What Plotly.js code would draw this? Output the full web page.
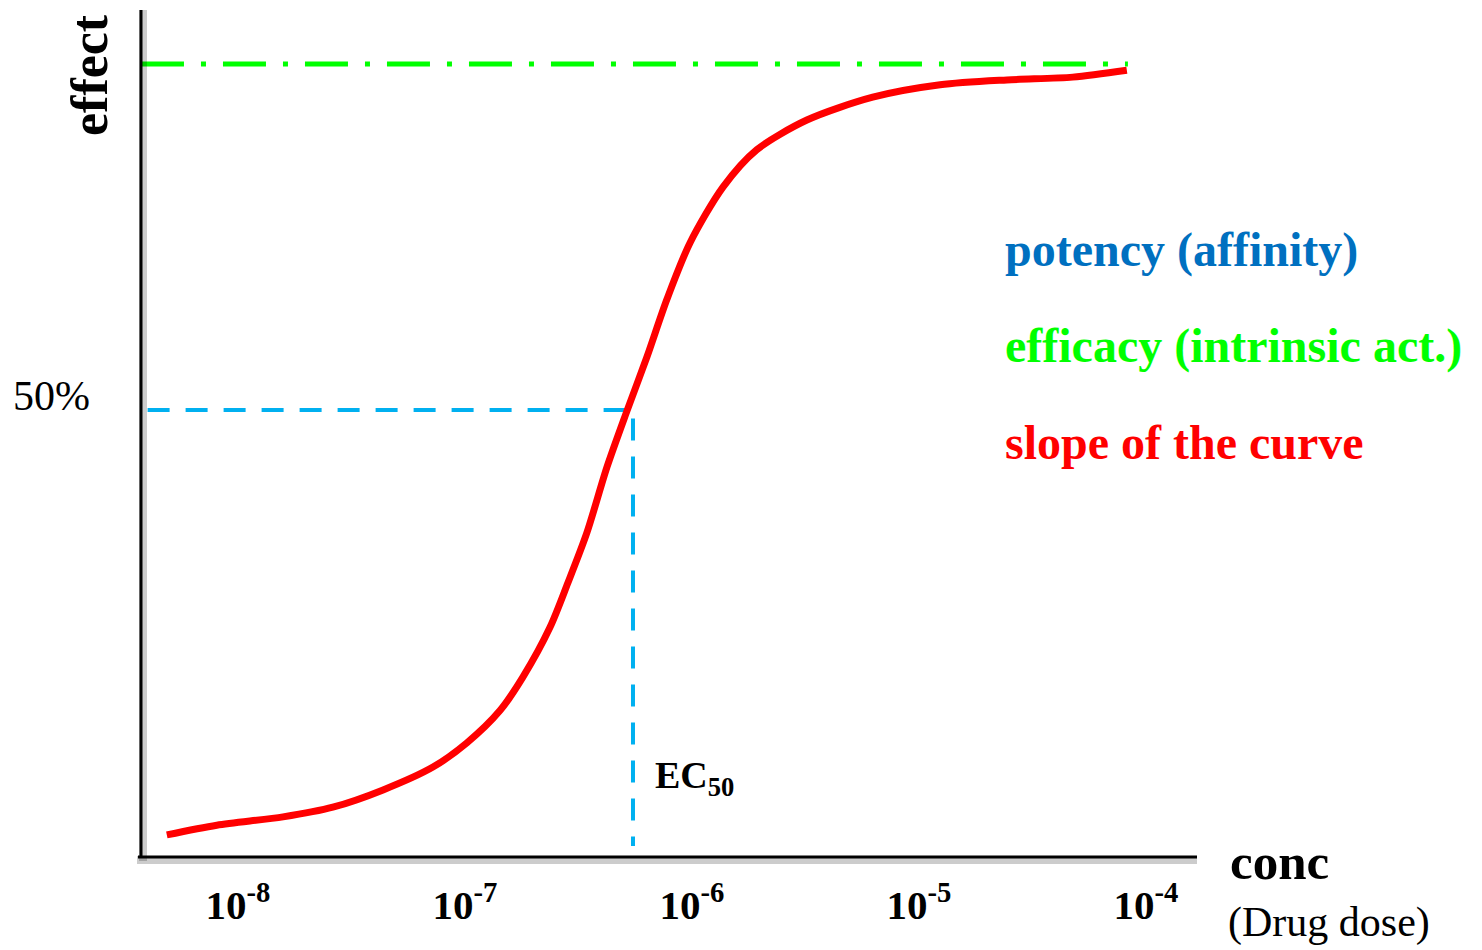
<!DOCTYPE html>
<html>
<head>
<meta charset="utf-8">
<script src="https://cdn.plot.ly/plotly-3.0.1.min.js"></script>
<style>
  html, body { margin: 0; padding: 0; background: #ffffff; }
  #chart { width: 1482px; height: 950px; }
</style>
</head>
<body>
<div id="chart"></div>
<script>
// Dose-response curve (concentration in M, effect in % of maximal effect)
const conc = [4.86e-9, 8.07e-9, 1.58e-8, 2.62e-8, 4.36e-8, 7.23e-8, 1.02e-7, 1.43e-7,
              1.80e-7, 2.37e-7, 2.84e-7, 3.44e-7, 4.23e-7, 5.18e-7, 6.34e-7, 7.76e-7, 9.79e-7,
              1.37e-6, 1.93e-6, 3.21e-6, 6.26e-6, 1.24e-5, 2.44e-5, 4.76e-5, 8.24e-5];
const effect = [-11.4, -10.0, -8.8, -7.4, -4.9, -1.6, 1.9, 6.6,
                11.4, 18.6, 25.0, 32.2, 41.8, 49.9, 57.7, 66.0, 74.1,
                82.2, 87.6, 91.9, 95.2, 97.0, 97.7, 98.1, 99.1];

// Efficacy (maximal effect) line
const efficacyX = [3.74e-9, 8.33e-5];
const efficacyY = [100, 100];

// EC50 guide lines
const ec50X = [4.0e-9, 5.5e-7, 5.5e-7];
const ec50Y = [50, 50, -13];

// Axis ticks
const xTickVals = [1e-8, 1e-7, 1e-6, 1e-5, 1e-4];
const xTickText = ['10<sup>-8</sup>', '10<sup>-7</sup>', '10<sup>-6</sup>', '10<sup>-5</sup>', '10<sup>-4</sup>'];
const yTickVals = [50];
const yTickText = ['50%'];

// Labels
const yTitle = 'effect';
const xTitle = 'conc';
const xSubtitle = '(Drug dose)';
const ec50Label = 'EC<sub>50</sub>';
const legendTexts = ['potency (affinity)', 'efficacy (intrinsic act.)', 'slope of the curve'];
const legendColors = ['#0070c0', '#00ff00', '#ff0000'];

const serif = 'Liberation Serif, Times New Roman, serif';

const traces = [
  {
    x: ec50X, y: ec50Y, type: 'scatter', mode: 'lines',
    line: {color: '#00b0f0', width: 4, dash: '22px,16px'},
    hoverinfo: 'skip'
  },
  {
    x: efficacyX, y: efficacyY, type: 'scatter', mode: 'lines',
    line: {color: '#00ff00', width: 5, dash: '43px,17px,5px,17px'},
    hoverinfo: 'skip'
  },
  {
    x: conc, y: effect, type: 'scatter', mode: 'lines',
    line: {color: '#ff0000', width: 7, shape: 'spline', smoothing: 0.8},
    hoverinfo: 'skip'
  }
];

const legendY = [250, 346, 442];
const annotations = [
  {text: '<b>' + yTitle + '</b>', xref: 'paper', yref: 'paper',
   x: -52 / 1056, y: (857 - 75) / 847, textangle: -90, showarrow: false,
   xanchor: 'center', yanchor: 'middle', font: {family: serif, size: 52, color: '#000'}},
  {text: '<b>' + xTitle + '</b>', xref: 'paper', yref: 'paper',
   x: (1228 - 141) / 1056, y: (857 - 862) / 847, showarrow: false,
   xanchor: 'left', yanchor: 'middle', font: {family: serif, size: 51, color: '#000'}},
  {text: xSubtitle, xref: 'paper', yref: 'paper',
   x: (1226 - 141) / 1056, y: (857 - 922) / 847, showarrow: false,
   xanchor: 'left', yanchor: 'middle', font: {family: serif, size: 42, color: '#000'}},
  {text: '<b>' + ec50Label + '</b>', xref: 'paper', yref: 'paper',
   x: (653 - 141) / 1056, y: (857 - 778) / 847, showarrow: false,
   xanchor: 'left', yanchor: 'middle', font: {family: serif, size: 38, color: '#000'}}
];
legendTexts.forEach((t, i) => {
  annotations.push({
    text: '<b>' + t + '</b>', xref: 'paper', yref: 'paper',
    x: (1003 - 141) / 1056, y: (857 - legendY[i]) / 847, showarrow: false,
    xanchor: 'left', yanchor: 'middle',
    font: {family: serif, size: 48, color: legendColors[i]}
  });
});

const shapes = [
  // shadows
  {type: 'line', xref: 'paper', yref: 'paper', x0: 2 / 1056, x1: 2 / 1056, y0: -4 / 847, y1: 1,
   line: {color: 'rgba(0,0,0,0.2)', width: 8}, layer: 'above'},
  {type: 'line', xref: 'paper', yref: 'paper', x0: -4 / 1056, x1: 1, y0: -3 / 847, y1: -3 / 847,
   line: {color: 'rgba(0,0,0,0.2)', width: 8}, layer: 'above'},
  // axis lines
  {type: 'line', xref: 'paper', yref: 'paper', x0: 0, x1: 0, y0: 0, y1: 1,
   line: {color: '#000', width: 3}, layer: 'above'},
  {type: 'line', xref: 'paper', yref: 'paper', x0: -3 / 1056, x1: 1, y0: 0, y1: 0,
   line: {color: '#000', width: 3}, layer: 'above'}
];

const layout = {
  width: 1482, height: 950,
  margin: {l: 141, r: 285, t: 10, b: 93, pad: 0},
  paper_bgcolor: '#ffffff', plot_bgcolor: '#ffffff',
  showlegend: false,
  xaxis: {
    type: 'log', range: [-8.427, -3.775],
    showgrid: false, zeroline: false, showline: false, ticks: '',
    tickvals: xTickVals, ticktext: xTickText.map(t => '<b>' + t + '</b>'),
    tickfont: {family: serif, size: 41, color: '#000'},
    ticklabelstandoff: 20, fixedrange: true
  },
  yaxis: {
    range: [-14.6, 107.8],
    showgrid: false, zeroline: false, showline: false, ticks: '',
    tickvals: yTickVals, ticktext: yTickText,
    tickfont: {family: serif, size: 42, color: '#000'},
    ticklabelstandoff: 50, ticklabelshift: -15, fixedrange: true
  },
  annotations: annotations,
  shapes: shapes
};

Plotly.newPlot('chart', traces, layout, {displayModeBar: false, staticPlot: true});
</script>
</body>
</html>
